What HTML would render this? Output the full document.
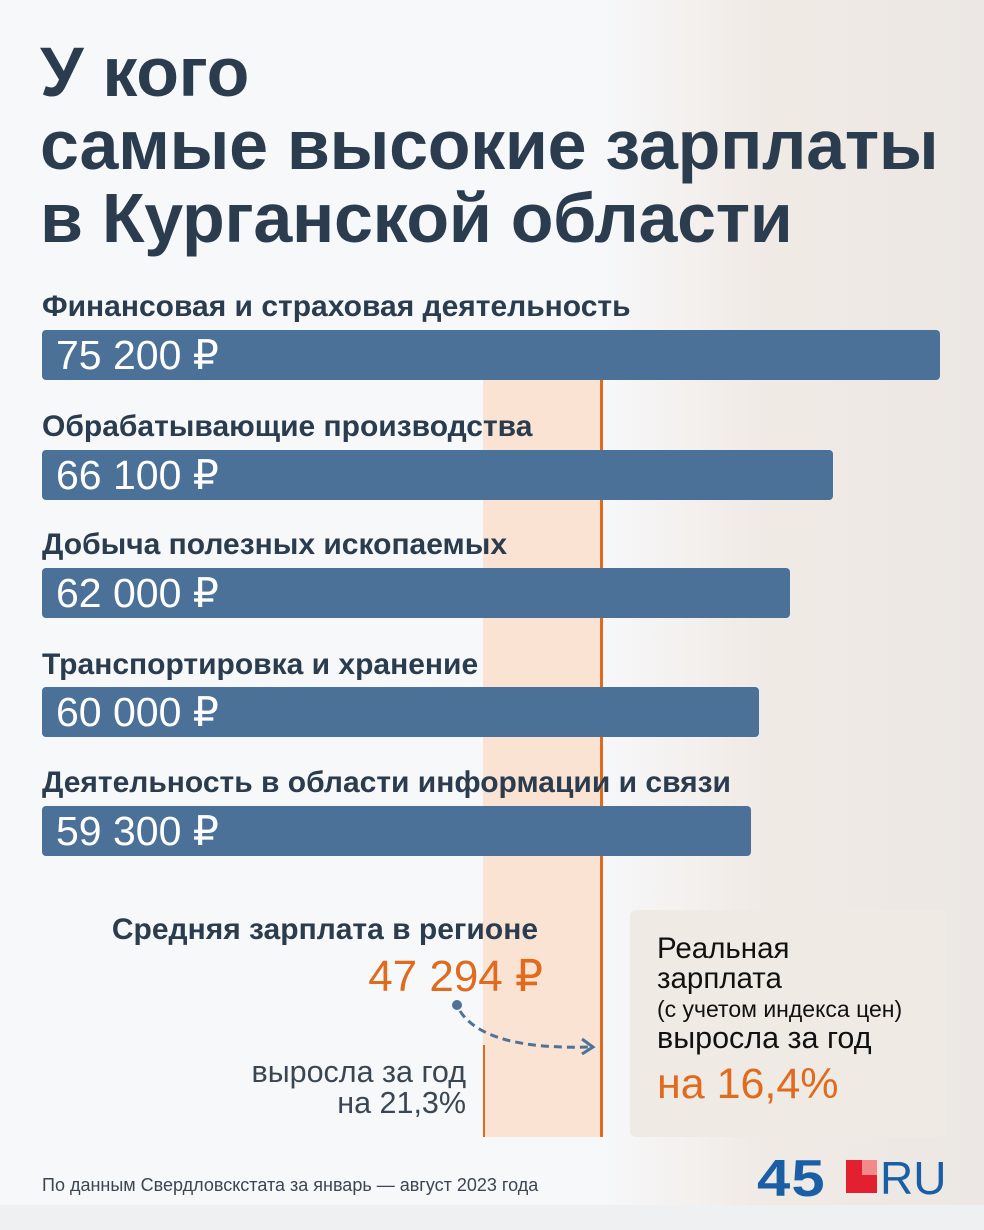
<!DOCTYPE html>
<html><head><meta charset="utf-8"><style>
*{margin:0;padding:0;box-sizing:border-box}
body{width:984px;height:1230px;position:relative;overflow:hidden;background:#f7f8fa;font-family:"Liberation Sans",sans-serif;color:#2b3d4f}
.a{position:absolute;white-space:nowrap}
.t{font-weight:bold;font-size:70px;line-height:73px;left:40px;top:36px;color:#2a3c4e;letter-spacing:-0.3px}
.l{font-weight:bold;font-size:30px;left:42px;color:#2a3c4e}
.b{position:absolute;left:42px;height:50px;background:#4b7199;border-radius:4px;color:#fff;font-size:41px;line-height:50px;padding-left:14px}
</style></head><body>
<div class="a" style="left:600px;top:0;width:384px;height:1230px;background:linear-gradient(90deg,rgba(247,248,250,1),rgba(236,226,216,.6) 40%,rgba(225,214,205,.5))"></div>
<div class="a" style="left:0;top:1205px;width:984px;height:25px;background:#eef0f2"></div>
<div class="a" style="left:483px;top:380px;width:118px;height:757px;background:#fbe3d4"></div>
<div class="a" style="left:600px;top:380px;width:3px;height:757px;background:#e06a1e"></div>
<div class="a" style="left:483px;top:1045px;width:2px;height:92px;background:#e06a1e"></div>
<div class="a t">У кого<br>самые высокие зарплаты<br>в Курганской области</div>
<div class="a l" style="top:290px">Финансовая и страховая деятельность</div>
<div class="b" style="top:330px;width:898px">75 200 ₽</div>
<div class="a l" style="top:410px">Обрабатывающие производства</div>
<div class="b" style="top:450px;width:791px">66 100 ₽</div>
<div class="a l" style="top:528px">Добыча полезных ископаемых</div>
<div class="b" style="top:568px;width:748px">62 000 ₽</div>
<div class="a l" style="top:648px">Транспортировка и хранение</div>
<div class="b" style="top:687px;width:717px">60 000 ₽</div>
<div class="a l" style="top:766px">Деятельность в области информации и связи</div>
<div class="b" style="top:806px;width:709px">59 300 ₽</div>
<div class="a" style="right:446px;top:913px;font-weight:bold;font-size:30px;color:#2a3c4e">Средняя зарплата в регионе</div>
<div class="a" style="right:441px;top:951px;font-size:44px;color:#e06a1e">47 294 ₽</div>
<div class="a" style="right:518px;top:1057px;font-size:30.5px;line-height:31px;text-align:right;color:#3a4652">выросла за год<br>на 21,3%</div>
<svg class="a" style="left:450px;top:995px" width="160" height="70"><circle cx="7" cy="10" r="5" fill="#4e7396"/><path d="M10 16 Q35 55 140 52" fill="none" stroke="#4e7396" stroke-width="3" stroke-dasharray="8 5"/><path d="M132 44 L143 52 L132 59" fill="none" stroke="#4e7396" stroke-width="3"/></svg>
<div class="a" style="left:630px;top:910px;width:316px;height:227px;background:#efebe4;border-radius:6px"></div>
<div class="a" style="left:657px;top:934px;font-size:29.5px;line-height:30px;color:#111">Реальная<br>зарплата</div>
<div class="a" style="left:657px;top:996px;font-size:23px;color:#111">(с учетом индекса цен)</div>
<div class="a" style="left:657px;top:1021px;font-size:30.5px;color:#111">выросла за год</div>
<div class="a" style="left:657px;top:1060px;font-size:43px;color:#e06a1e">на 16,4%</div>
<div class="a" style="left:42px;top:1175px;font-size:18px;color:#3a4652">По данным Свердловскстата за январь — август 2023 года</div>
<div class="a" style="left:757px;top:1149px;font-size:52px;font-weight:bold;color:#1a5fa6;letter-spacing:1px;transform:scaleX(1.15);transform-origin:left">45</div>
<div class="a" style="left:846px;top:1160px;width:31px;height:33px;background:#e3202f"></div>
<div class="a" style="left:862px;top:1160px;width:15px;height:15px;background:#f28a8a"></div>
<div class="a" style="left:880px;top:1151px;font-size:46px;color:#1a5fa6">RU</div>
</body></html>
